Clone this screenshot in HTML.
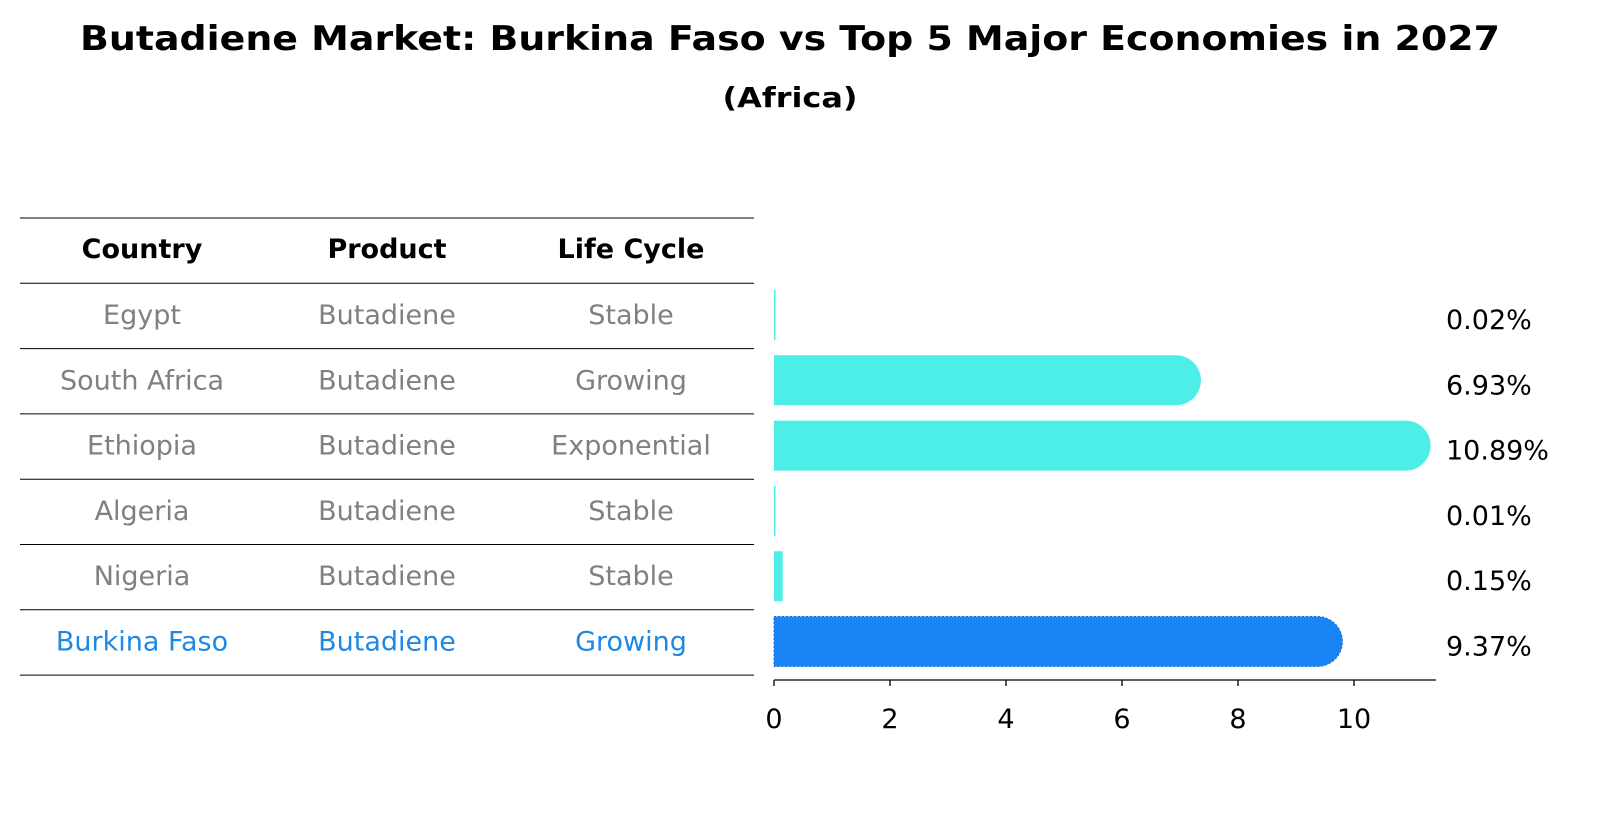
<!DOCTYPE html>
<html><head><meta charset="utf-8"><style>
body{margin:0;background:#fff;font-family:"DejaVu Sans","Liberation Sans",sans-serif;}
#wrap{position:relative;width:1604px;height:823px;}
</style></head><body>
<div id="wrap">
<svg id="svg" width="1604" height="823" xmlns="http://www.w3.org/2000/svg">
<text x="790" y="50" text-anchor="middle" font-size="34" font-weight="bold" font-family="DejaVu Sans, sans-serif" textLength="1420" lengthAdjust="spacingAndGlyphs">Butadiene Market: Burkina Faso vs Top 5 Major Economies in 2027</text>
<text x="790" y="107" text-anchor="middle" font-size="28" font-weight="bold" font-family="DejaVu Sans, sans-serif" textLength="135" lengthAdjust="spacingAndGlyphs">(Africa)</text>
<g id="table"></g>
<g id="bars"></g>
</svg>
</div>
<script>
const countries=["Egypt","South Africa","Ethiopia","Algeria","Nigeria","Burkina Faso"];
const products=["Butadiene","Butadiene","Butadiene","Butadiene","Butadiene","Butadiene"];
const lifeCycles=["Stable","Growing","Exponential","Stable","Stable","Growing"];
const values=[0.02,6.93,10.89,0.01,0.15,9.37];
const valueLabels=["0.02%","6.93%","10.89%","0.01%","0.15%","9.37%"];
const xTicks=[0,2,4,6,8,10];

const NS="http://www.w3.org/2000/svg";
const F='DejaVu Sans, sans-serif';
const FS=27;
function mk(tag,attrs,parent){const e=document.createElementNS(NS,tag);for(const k in attrs)e.setAttribute(k,attrs[k]);parent.appendChild(e);return e;}
const x=v=>774+v*58;
const rowY=i=>315+i*65.3;
const table=document.getElementById('table'), bars=document.getElementById('bars');
const cols=[142,387,631];
for(let i=0;i<=countries.length+1;i++){
  const y=218+i*65.3;
  const l=mk('line',{x1:20,x2:754,y1:y,y2:y,stroke:'#000','stroke-width':1},table);
  
  
}
["Country","Product","Life Cycle"].forEach((h,j)=>{
  const t=mk('text',{x:cols[j],y:258,'text-anchor':'middle','font-size':FS,'font-weight':'bold','font-family':F},table);
  t.textContent=h;
  
  
});
countries.forEach((c,i)=>{
  const col=i===countries.length-1?'#1e88e5':'#808080';
  [c,products[i],lifeCycles[i]].forEach((s,j)=>{
    const t=mk('text',{x:cols[j],y:rowY(i)+9,'text-anchor':'middle','font-size':FS,fill:col,'font-family':F},table);
    t.textContent=s;
    
    
  });
  const h=50, r=25, y0=rowY(i)-h/2, w=x(values[i])-x(0);
  const last=i===countries.length-1;
  const fill=last?'#1884f5':'#4deee8';
  let el;
  if(w<r){
    el=mk('rect',{x:774,y:y0,width:Math.max(w,1.5),height:h,fill:fill},bars);
  } else {
    const xe=x(values[i]);
    el=mk('path',{d:`M774 ${y0} H${xe} A${r} ${r} 0 0 1 ${xe} ${y0+h} H774 Z`,fill:fill},bars);
    if(last){el.setAttribute('stroke','#1a6fd0');el.setAttribute('stroke-dasharray','2 2');el.setAttribute('stroke-width','1');}
  }
  
  
  const t=mk('text',{x:1446,y:rowY(i)+14,'font-size':FS,'font-family':F},bars);
  t.textContent=valueLabels[i];
  
  
});
const ax=mk('line',{x1:774,x2:1436,y1:680,y2:680,stroke:'#000','stroke-width':1.3},bars);


xTicks.forEach(v=>{
  const tk=mk('line',{x1:x(v),x2:x(v),y1:680,y2:686,stroke:'#000','stroke-width':1.3},bars);
  
  
  const t=mk('text',{x:x(v),y:728,'text-anchor':'middle','font-size':FS,'font-family':F},bars);
  t.textContent=v;
  
  
});
</script>
</body></html>
